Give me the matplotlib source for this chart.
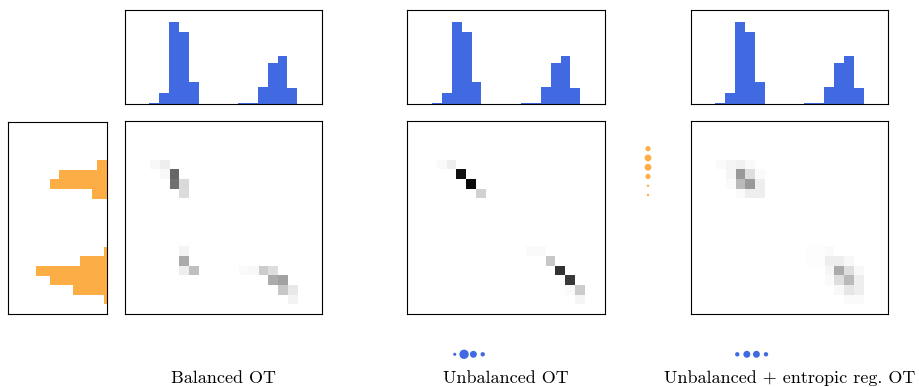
import numpy as np
import matplotlib
matplotlib.use("Agg")
import matplotlib.pyplot as plt

plt.rcParams['font.family'] = ['cmr10', 'DejaVu Serif']
plt.rcParams['mathtext.fontset'] = 'cm'
plt.rcParams['axes.formatter.use_mathtext'] = True

N = 20
BLUE = '#4169E1'
ORANGE = '#FDAD45'

# source histogram (top, blue), columns
src_cols = [3, 4, 5, 6, 7, 12, 13, 14, 15, 16, 17]
src_vals = [0.014, 0.12, 0.873, 0.768, 0.24, 0.018, 0.018, 0.187, 0.44, 0.514, 0.176]

# target histogram (left, orange), rows
tgt_rows = [4, 5, 6, 7, 13, 14, 15, 16, 17, 18]
tgt_vals = [0.10, 0.48, 0.58, 0.15, 0.03, 0.27, 0.72, 0.58, 0.34, 0.03]

# transport plans: (row, col, value)
plan_balanced = [
    (4, 3, 0.03), (4, 4, 0.07), (5, 4, 0.03), (5, 5, 0.60), (6, 5, 0.56),
    (6, 6, 0.15), (7, 6, 0.14),
    (13, 6, 0.04), (14, 6, 0.33), (15, 6, 0.07), (15, 7, 0.25),
    (15, 12, 0.02), (15, 13, 0.03), (15, 14, 0.20), (15, 15, 0.13),
    (16, 15, 0.33), (16, 16, 0.37), (17, 16, 0.22), (17, 17, 0.09), (18, 17, 0.05),
]
plan_unbalanced = [
    (4, 3, 0.02), (4, 4, 0.07), (5, 5, 0.93), (6, 6, 0.96), (7, 7, 0.18),
    (13, 12, 0.02), (13, 13, 0.02), (14, 14, 0.22), (15, 15, 0.80),
    (16, 16, 0.77), (17, 16, 0.02), (17, 17, 0.20), (18, 17, 0.04),
]
plan_entropic = [
    (4, 3, 0.02), (4, 4, 0.04), (4, 5, 0.06), (4, 6, 0.02),
    (5, 4, 0.04), (5, 5, 0.40), (5, 6, 0.13), (5, 7, 0.02),
    (6, 4, 0.02), (6, 5, 0.27), (6, 6, 0.40), (6, 7, 0.07),
    (7, 5, 0.02), (7, 6, 0.07), (7, 7, 0.07),
    (13, 12, 0.01), (13, 13, 0.01), (13, 14, 0.02),
    (14, 12, 0.01), (14, 13, 0.01), (14, 14, 0.07), (14, 15, 0.07), (14, 16, 0.03),
    (15, 14, 0.04), (15, 15, 0.33), (15, 16, 0.13), (15, 17, 0.03),
    (16, 14, 0.02), (16, 15, 0.13), (16, 16, 0.27), (16, 17, 0.07),
    (17, 15, 0.03), (17, 16, 0.10), (17, 17, 0.07),
    (18, 16, 0.02), (18, 17, 0.02),
]
plans = [plan_balanced, plan_unbalanced, plan_entropic]
plan_shift = [0.0, 0.5, 0.0]
titles = ['Balanced OT', 'Unbalanced OT', 'Unbalanced + entropic reg. OT']

# marginal dots (marker areas)
orange_dot_sizes = [14, 24, 24, 14, 3, 3]
blue_dot_sizes_2 = [5, 45, 25, 10]
blue_dot_sizes_3 = [10, 25, 25, 10]

W, H = 920, 387
fig = plt.figure(figsize=(W / 100, H / 100), dpi=100)


def rect(l, t, r, b):
    return [l / W, 1 - b / H, (r - l) / W, (b - t) / H]


def clean(ax):
    ax.set_xticks([])
    ax.set_yticks([])


panel_x = [(124.7, 322.0), (407.3, 605.0), (690.7, 888.3)]

for k, (l, r) in enumerate(panel_x):
    axh = fig.add_axes(rect(l, 9.7, r, 104.3))
    axh.bar(src_cols, src_vals, width=1, color=BLUE)
    axh.set_xlim(0, N)
    axh.set_ylim(0, 1)
    clean(axh)

    axm = fig.add_axes(rect(l, 121.5, r, 313.7))
    M = np.zeros((N, N))
    for (i, j, v) in plans[k]:
        M[i, j] = v
    s = plan_shift[k]
    axm.imshow(M, cmap='gray_r', vmin=0, vmax=1, interpolation='nearest',
               aspect='auto', extent=(-0.5 + s, N - 0.5 + s, N - 0.5, -0.5))
    axm.set_xlim(0, N)
    axm.set_ylim(N - 0.5, -0.5)
    clean(axm)

    fig.text((l + r) / 2 / W, 1 - 378 / H, titles[k], ha='center', va='center',
             fontsize=13)

axl = fig.add_axes(rect(8.3, 121.7, 106.7, 314.0))
axl.barh(tgt_rows, tgt_vals, height=1, color=ORANGE)
axl.set_xlim(1, 0)
axl.set_ylim(N - 0.5, -0.5)
clean(axl)

# orange vertical dots
axo = fig.add_axes(rect(638, 139.4, 658, 204.3))
idx = np.arange(len(orange_dot_sizes))
axo.scatter(np.zeros_like(idx), idx, s=orange_dot_sizes, color=ORANGE, linewidths=0)
axo.set_xlim(-1, 1)
axo.set_ylim(len(orange_dot_sizes), -1)
axo.axis('off')

# blue horizontal dots
for sizes, (l, r) in [(blue_dot_sizes_2, (445.4, 492.05)), (blue_dot_sizes_3, (727.7, 775.55))]:
    axb = fig.add_axes(rect(l, 344, r, 364.6))
    idx = np.arange(len(sizes))
    axb.scatter(idx, np.zeros_like(idx), s=sizes, color=BLUE, linewidths=0)
    axb.set_xlim(-1, len(sizes))
    axb.set_ylim(-1, 1)
    axb.axis('off')

fig.savefig('out.png', dpi=100)
